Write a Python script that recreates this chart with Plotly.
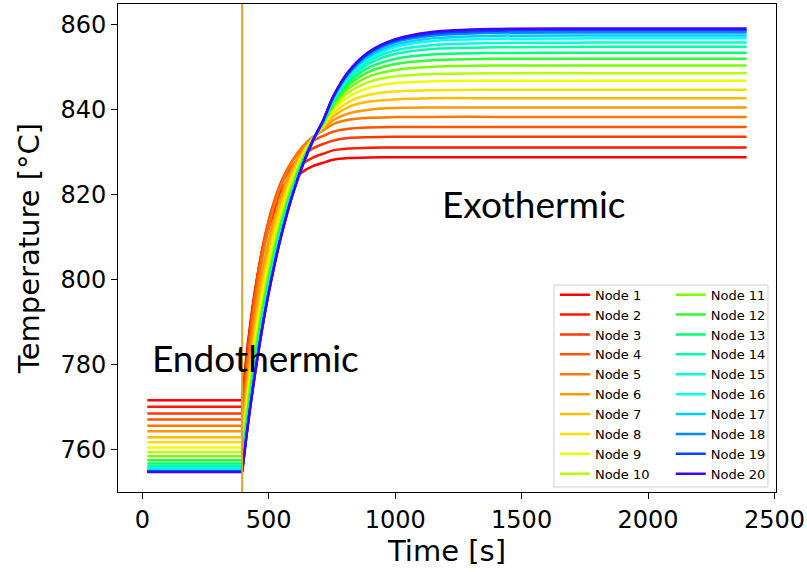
import plotly.graph_objects as go

# ---- data ----
TIME = [20, 395, 410, 425, 445, 470, 495, 525, 555, 595, 635, 675, 715,
        755, 815, 895, 995, 1145, 1395, 1795, 2390]

NODE_1 = [771.5, 771.5, 780.8, 788.5, 797.0, 805.1, 811.1, 816.4, 820.1, 823.4, 825.4, 826.7, 827.5, 828.2, 828.6, 828.75, 828.8, 828.8, 828.8, 828.8, 828.8]
NODE_2 = [770.0, 770.0, 779.8, 788.0, 796.9, 805.6, 812.0, 817.6, 821.6, 825.1, 827.3, 828.7, 829.6, 830.4, 830.85, 831.0, 831.1, 831.1, 831.1, 831.1, 831.1]
NODE_3 = [768.4, 768.4, 778.6, 787.2, 796.7, 805.8, 812.7, 818.7, 823.0, 826.9, 829.3, 830.9, 831.9, 832.7, 833.3, 833.5, 833.6, 833.6, 833.6, 833.6, 833.6]
NODE_4 = [767.0, 767.0, 777.4, 786.2, 795.9, 805.4, 812.7, 819.1, 823.8, 828.1, 830.8, 832.6, 833.8, 834.8, 835.5, 835.8, 835.9, 835.9, 835.9, 835.9, 835.9]
NODE_5 = [765.5, 765.5, 775.5, 784.1, 793.7, 803.4, 811.0, 818.0, 823.1, 828.1, 831.4, 833.6, 835.1, 836.6, 837.6, 838.1, 838.25, 838.3, 838.3, 838.3, 838.3]
NODE_6 = [764.2, 764.2, 773.3, 781.3, 790.6, 800.1, 807.8, 815.1, 820.8, 826.5, 830.5, 833.4, 835.4, 837.5, 839.1, 840.0, 840.4, 840.5, 840.5, 840.5, 840.5]
NODE_7 = [762.8, 762.8, 771.4, 779.2, 788.2, 797.6, 805.5, 813.1, 819.1, 825.3, 829.9, 833.3, 835.8, 838.4, 840.6, 841.9, 842.4, 842.7, 842.7, 842.7, 842.7]
NODE_8 = [761.6, 761.6, 770.0, 777.5, 786.4, 795.9, 803.8, 811.7, 818.0, 824.6, 829.6, 833.3, 836.1, 839.2, 841.8, 843.5, 844.3, 844.6, 844.7, 844.7, 844.7]
NODE_9 = [760.4, 760.4, 768.5, 775.9, 784.6, 794.1, 802.1, 810.1, 816.6, 823.6, 829.0, 833.1, 836.3, 839.8, 843.0, 845.1, 846.2, 846.7, 846.8, 846.8, 846.8]
NODE_10 = [759.3, 759.3, 767.3, 774.6, 783.3, 792.7, 800.8, 809.0, 815.8, 823.0, 828.7, 833.1, 836.5, 840.4, 844.0, 846.5, 847.8, 848.4, 848.6, 848.6, 848.6]
NODE_11 = [758.3, 758.3, 766.2, 773.4, 782.0, 791.5, 799.6, 807.9, 814.9, 822.4, 828.3, 833.0, 836.7, 840.9, 844.9, 847.8, 849.3, 850.1, 850.4, 850.4, 850.4]
NODE_12 = [757.4, 757.4, 765.2, 772.3, 780.9, 790.4, 798.6, 807.0, 814.1, 821.8, 828.0, 832.9, 836.8, 841.3, 845.7, 848.9, 850.7, 851.65, 852.0, 852.0, 852.0]
NODE_13 = [756.6, 756.6, 764.3, 771.5, 780.1, 789.6, 797.9, 806.4, 813.6, 821.5, 827.9, 833.0, 837.0, 841.8, 846.4, 849.9, 851.9, 853.0, 853.35, 853.4, 853.4]
NODE_14 = [756.0, 756.0, 763.7, 770.7, 779.3, 788.8, 797.1, 805.7, 813.0, 821.1, 827.6, 832.9, 837.1, 842.1, 847.1, 850.8, 853.05, 854.3, 854.7, 854.8, 854.8]
NODE_15 = [755.5, 755.5, 763.1, 770.2, 778.7, 788.2, 796.5, 805.2, 812.6, 820.8, 827.4, 832.8, 837.2, 842.3, 847.5, 851.5, 853.9, 855.2, 855.7, 855.8, 855.8]
NODE_16 = [755.1, 755.1, 762.7, 769.7, 778.2, 787.7, 796.1, 804.8, 812.2, 820.5, 827.3, 832.8, 837.3, 842.6, 848.0, 852.1, 854.7, 856.2, 856.7, 856.8, 856.8]
NODE_17 = [754.9, 754.9, 762.4, 769.4, 777.9, 787.4, 795.7, 804.5, 812.0, 820.3, 827.2, 832.7, 837.3, 842.7, 848.2, 852.5, 855.2, 856.8, 857.4, 857.5, 857.5]
NODE_18 = [754.8, 754.8, 762.3, 769.2, 777.7, 787.1, 795.5, 804.2, 811.7, 820.2, 827.1, 832.7, 837.3, 842.9, 848.5, 853.0, 855.8, 857.4, 858.1, 858.2, 858.2]
NODE_19 = [754.7, 754.7, 762.2, 769.1, 777.5, 787.0, 795.3, 804.1, 811.6, 820.1, 827.0, 832.7, 837.4, 843.0, 848.7, 853.3, 856.2, 857.9, 858.6, 858.7, 858.7]
NODE_20 = [754.6, 754.6, 762.0, 769.0, 777.4, 786.9, 795.3, 804.0, 811.6, 820.1, 827.1, 832.8, 837.5, 843.15, 849.0, 853.6, 856.5, 858.3, 859.0, 859.1, 859.1]

NODE_NAMES = ["Node %d" % i for i in range(1, 21)]
NODE_SERIES = [NODE_1, NODE_2, NODE_3, NODE_4, NODE_5, NODE_6, NODE_7, NODE_8, NODE_9, NODE_10,
               NODE_11, NODE_12, NODE_13, NODE_14, NODE_15, NODE_16, NODE_17, NODE_18, NODE_19, NODE_20]

STEP_TIME = 395
X_TICKS = [0, 500, 1000, 1500, 2000, 2500]
Y_TICKS = [760, 780, 800, 820, 840, 860]

# ---- styles ----
COLORS = ["#ff0000", "#ff1a00", "#ff3700", "#ff5500", "#ff7700", "#ff9900", "#ffbb00", "#ffdd00",
          "#eeff00", "#b3ff00", "#77ff00", "#30ff30", "#00ff77", "#00ffaa", "#00ffd5", "#00ffff",
          "#00ccff", "#0088ff", "#0044ff", "#4000ff"]

STEP_IDX = TIME.index(STEP_TIME)

fig = go.Figure()
for i, (name, ys) in enumerate(zip(NODE_NAMES, NODE_SERIES)):
    leg = "legend" if i < 10 else "legend2"
    # flat (before the step) part
    fig.add_trace(go.Scatter(
        x=TIME[:STEP_IDX + 1], y=ys[:STEP_IDX + 1], mode="lines", name=name,
        line=dict(color=COLORS[i], width=2.5), legend=leg, legendgroup=name, showlegend=True,
    ))
    # transient part (smooth)
    fig.add_trace(go.Scatter(
        x=TIME[STEP_IDX:], y=ys[STEP_IDX:], mode="lines", name=name,
        line=dict(color=COLORS[i], width=2.5, shape="spline", smoothing=0.8),
        legend=leg, legendgroup=name, showlegend=False,
    ))

TICKFONT = dict(family="DejaVu Sans", size=24, color="#000")
TITLEFONT = dict(family="DejaVu Sans", size=29, color="#000")
LEGFONT = dict(family="DejaVu Sans", size=13, color="#000")

axis_common = dict(showline=True, mirror=True, linecolor="black", linewidth=1,
                   ticks="outside", ticklen=6, tickwidth=1, tickcolor="black",
                   showgrid=False, zeroline=False, tickfont=TICKFONT, automargin=False)

fig.update_layout(
    width=807, height=572,
    margin=dict(l=118, r=31, t=4, b=80),
    paper_bgcolor="white", plot_bgcolor="white",
    xaxis=dict(range=[-96, 2506], tickvals=X_TICKS,
               title=dict(text="Time [s]", font=TITLEFONT, standoff=6), **axis_common),
    yaxis=dict(range=[749.9, 864.9], tickvals=Y_TICKS,
               title=dict(text="Temperature [°C]", font=TITLEFONT, standoff=12), **axis_common),
    legend=dict(x=0.664, y=0.435, xanchor="left", yanchor="top", bgcolor="rgba(0,0,0,0)",
                borderwidth=0, font=LEGFONT, itemwidth=30, tracegroupgap=0),
    legend2=dict(x=0.840, y=0.435, xanchor="left", yanchor="top", bgcolor="rgba(0,0,0,0)",
                 borderwidth=0, font=LEGFONT, itemwidth=30, tracegroupgap=0),
    shapes=[
        dict(type="line", xref="x", yref="paper", x0=STEP_TIME, x1=STEP_TIME, y0=0, y1=1,
             line=dict(color="#e2a025", width=2), layer="above"),
        dict(type="rect", xref="paper", yref="paper", x0=0.6626, x1=0.9878, y0=0.0102, y1=0.4242,
             line=dict(color="#d0d0d0", width=1), fillcolor="rgba(255,255,255,0.85)", layer="above"),
    ],
    annotations=[
        dict(text="Endothermic", x=32, y=781.7, xref="x", yref="y", xanchor="left", yanchor="middle",
             showarrow=False, font=dict(family="Lato", size=37, color="#000")),
        dict(text="Exothermic", x=1177, y=818.0, xref="x", yref="y", xanchor="left", yanchor="middle",
             showarrow=False, font=dict(family="Lato", size=37, color="#000")),
    ],
)

fig.write_html("out.html", config={"displayModeBar": False},
               post_script="document.body.style.margin='0';")
